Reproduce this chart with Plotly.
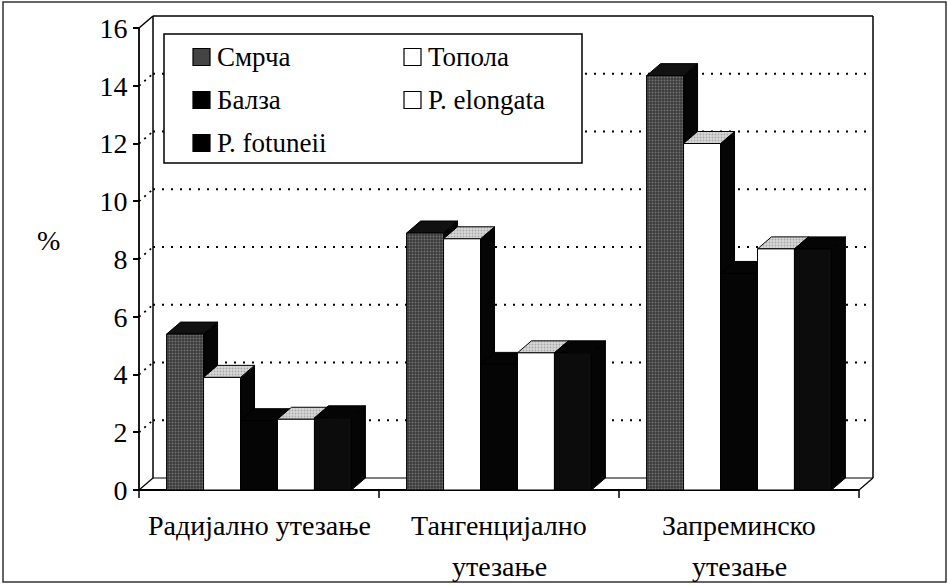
import plotly.graph_objects as go

# ---------------- data ----------------
categories = ["Радијално утезање", "Тангенцијално<br>утезање", "Запреминско<br>утезање"]
series_names = ["Смрча", "Топола", "Балза", "P. elongata", "P. fotuneii"]
smrca = [5.4, 8.9, 14.35]
topola = [3.9, 8.7, 12.0]
balza = [2.4, 4.35, 7.5]
p_elongata = [2.45, 4.75, 8.35]
p_fotuneii = [2.5, 4.75, 8.35]
y_ticks = [0, 2, 4, 6, 8, 10, 12, 14, 16]
y_title = "%"

series_values = [smrca, topola, balza, p_elongata, p_fotuneii]

# ---------------- styling / geometry ----------------
FONT = "Times New Roman, Liberation Serif, Tinos, DejaVu Serif, serif"
W, H = 948, 585
L, R, T, B = 132, 68, 7, 86
PW, PH = W - L - R, H - T - B
PX_X = 240.0      # pixels per category
PX_Y = 28.875     # pixels per percent
xmin = -(139 - L) / PX_X
xmax = xmin + PW / PX_X
y0px = 490
ymin = -((H - B) - y0px) / PX_Y
ymax = ymin + PH / PX_Y

DX = 14 / PX_X    # depth offset (x)
DY = 12 / PX_Y    # depth offset (y)
GAP = 0.115
BW = 0.154

styles = [
    dict(front=dict(fillcolor="#3c3c3c", fillpattern=dict(shape=".", bgcolor="#3a3a3a", fgcolor="#a8a8a8", size=3, solidity=0.35)),
         top="#111111", side="#050505"),
    dict(front=dict(fillcolor="#ffffff"), top="#c4c4c4", side="#050505"),
    dict(front=dict(fillcolor="#050505"), top="#050505", side="#050505"),
    dict(front=dict(fillcolor="#ffffff"), top="#c4c4c4", side="#050505"),
    dict(front=dict(fillcolor="#0c0c0c"), top="#050505", side="#050505"),
]

fig = go.Figure()

def poly(xs, ys, fillcolor, **kw):
    fig.add_trace(go.Scatter(x=xs, y=ys, mode="lines", fill="toself",
                             fillcolor=fillcolor, line=dict(color="black", width=1),
                             hoverinfo="skip", showlegend=False, **kw))

ncat = len(categories)
for g in range(ncat):
    for i, vals in enumerate(series_values):
        v = vals[g]
        x0 = g + GAP + i * BW
        x1 = x0 + BW
        st = styles[i]
        poly([x1, x1 + DX, x1 + DX, x1, x1], [0, DY, v + DY, v, 0], st["side"])
        if st["top"] == "#c4c4c4":
            poly([x0, x0 + DX, x1 + DX, x1, x0], [v, v + DY, v + DY, v, v], st["top"],
                 fillpattern=dict(shape=".", bgcolor="#d8d8d8", fgcolor="#777777", size=3, solidity=0.3))
        else:
            poly([x0, x0 + DX, x1 + DX, x1, x0], [v, v + DY, v + DY, v, v], st["top"])
        front = dict(st["front"])
        fc = front.pop("fillcolor")
        poly([x0, x1, x1, x0, x0], [0, 0, v, v, 0], fc, **front)

shapes = []
def line(x0, y0, x1, y1, dash=None, width=1.5, layer="below"):
    d = dict(type="line", xref="x", yref="y", x0=x0, y0=y0, x1=x1, y1=y1,
             line=dict(color="black", width=width), layer=layer)
    if dash:
        d["line"]["dash"] = dash
    shapes.append(d)

top_v = y_ticks[-1]
for v in y_ticks[1:-1]:
    line(0, v, DX, v + DY, dash="2px,5px", width=1.8)
    line(DX, v + DY, ncat + DX, v + DY, dash="2px,7px", width=1.8)
line(DX, DY, DX, top_v + DY)
line(DX, top_v + DY, ncat + DX, top_v + DY)
line(ncat + DX, DY, ncat + DX, top_v + DY)
line(0, top_v, DX, top_v + DY)
line(0, 0, 0, top_v, width=1.8)
line(0, 0, ncat, 0, width=1.8)
line(DX, DY, ncat + DX, DY, width=1.2)
line(0, 0, DX, DY, width=1.2)
line(ncat, 0, ncat + DX, DY, width=1.2)
for k in range(ncat + 1):
    line(k, 0, k, -8 / PX_Y, width=1.5)

def px(xp):
    return (xp - L) / PW
def py(yp):
    return ((H - B) - yp) / PH

shapes.append(dict(type="rect", xref="paper", yref="paper",
                   x0=px(164), x1=px(582), y0=py(163), y1=py(34),
                   line=dict(color="black", width=1.5), fillcolor="white", layer="above"))
shapes.append(dict(type="rect", xref="paper", yref="paper",
                   x0=px(3), x1=px(946), y0=py(582), y1=py(2),
                   line=dict(color="#333333", width=1.5), layer="above"))

annotations = []
legend_pos = [(193, 57), (404, 57), (193, 100), (404, 100), (193, 143)]
legend_sq = ["#444444", "#ffffff", "#000000", "#ffffff", "#000000"]
for name, (lx, ly), col in zip(series_names, legend_pos, legend_sq):
    shapes.append(dict(type="rect", xref="paper", yref="paper",
                       x0=px(lx), x1=px(lx + 17), y0=py(ly + 8.5), y1=py(ly - 8.5),
                       line=dict(color="black", width=1.2), fillcolor=col, layer="above"))
    annotations.append(dict(xref="paper", yref="paper", x=px(lx + 22), y=py(ly),
                            text=name, showarrow=False, xanchor="left", yanchor="middle",
                            font=dict(family=FONT, size=27, color="black")))

for g, cat in enumerate(categories):
    for j, part in enumerate(cat.split("<br>")):
        annotations.append(dict(xref="x", yref="paper", x=g + 0.5, y=py(525 + 41 * j),
                                text=part, showarrow=False, xanchor="center", yanchor="middle",
                                font=dict(family=FONT, size=28, color="black")))

annotations.append(dict(xref="paper", yref="paper", x=px(48), y=py(240), text=y_title,
                        showarrow=False, xanchor="center", yanchor="middle",
                        font=dict(family=FONT, size=28, color="black")))

fig.update_layout(
    width=W, height=H, autosize=False,
    margin=dict(l=L, r=R, t=T, b=B, pad=0),
    paper_bgcolor="white", plot_bgcolor="white",
    font=dict(family=FONT, color="black"),
    shapes=shapes, annotations=annotations,
    showlegend=False,
    xaxis=dict(range=[xmin, xmax], showgrid=False, zeroline=False, showticklabels=False,
               ticks="", showline=False, fixedrange=True),
    yaxis=dict(range=[ymin, ymax], showgrid=False, zeroline=False, showline=False,
               anchor="free", position=(139 - L) / PW, side="left",
               tickmode="array", tickvals=y_ticks, ticktext=[str(t) for t in y_ticks],
               ticks="outside", ticklen=6, tickwidth=1.5, tickcolor="black",
               tickfont=dict(family=FONT, size=28, color="black"), fixedrange=True),
)

fig.write_html("out.html", config={"displayModeBar": False},
               post_script="document.body.style.margin='0';document.body.style.padding='0';")
